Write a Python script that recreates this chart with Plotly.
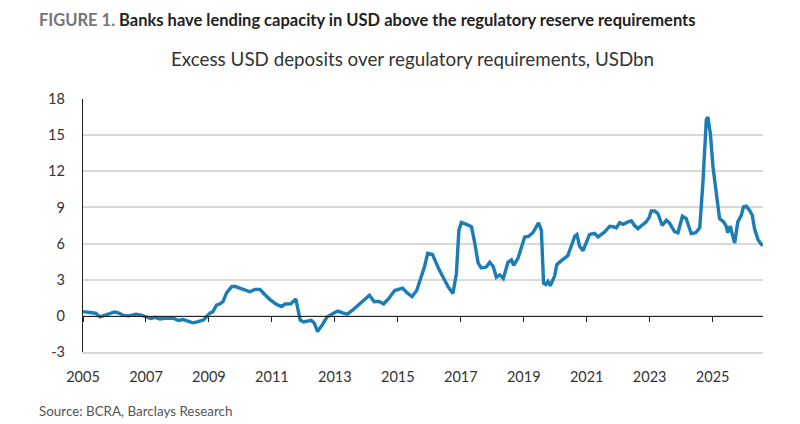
import plotly.graph_objects as go

# colours
COLORS = {
    'line': '#1b7db4',
    'grid': '#d9d9d9',
    'axis': '#222222',
    'text': '#333333',
    'muted': '#6b6b6b',
}

# data (decimal year, USD bn)
years = [
    2005.00, 2005.15, 2005.30, 2005.40, 2005.54, 2005.70, 2005.86, 2006.00, 2006.12, 2006.28,
    2006.45, 2006.68, 2006.85, 2007.00, 2007.15, 2007.30, 2007.44, 2007.65, 2007.87, 2008.03,
    2008.18, 2008.35, 2008.50, 2008.65, 2008.82, 2008.93, 2009.03, 2009.13, 2009.24, 2009.35,
    2009.45, 2009.56, 2009.72, 2009.82, 2009.98, 2010.19, 2010.30, 2010.46, 2010.62, 2010.78,
    2010.94, 2011.15, 2011.31, 2011.42, 2011.60, 2011.76, 2011.90, 2012.00, 2012.12, 2012.25,
    2012.35, 2012.45, 2012.60, 2012.75, 2013.00, 2013.10, 2013.25, 2013.40, 2013.55, 2013.70,
    2013.85, 2014.00, 2014.10, 2014.25, 2014.40, 2014.55, 2014.70, 2014.90, 2015.15, 2015.30,
    2015.45, 2015.60, 2015.72, 2015.85, 2015.95, 2016.10, 2016.30, 2016.49, 2016.60, 2016.75,
    2016.86, 2016.94, 2017.02, 2017.18, 2017.34, 2017.44, 2017.55, 2017.65, 2017.81, 2017.92,
    2018.03, 2018.13, 2018.24, 2018.35, 2018.50, 2018.61, 2018.68, 2018.82, 2018.92, 2019.03,
    2019.15, 2019.29, 2019.47, 2019.56, 2019.63, 2019.70, 2019.77, 2019.84, 2019.98, 2020.05,
    2020.16, 2020.30, 2020.40, 2020.51, 2020.62, 2020.69, 2020.77, 2020.88, 2020.99, 2021.09,
    2021.25, 2021.36, 2021.57, 2021.73, 2021.84, 2021.94, 2022.05, 2022.16, 2022.31, 2022.42,
    2022.52, 2022.63, 2022.79, 2022.89, 2022.99, 2023.05, 2023.16, 2023.26, 2023.40, 2023.53,
    2023.63, 2023.79, 2023.90, 2024.04, 2024.16, 2024.32, 2024.46, 2024.59, 2024.69, 2024.80,
    2024.85, 2024.93, 2025.01, 2025.12, 2025.22, 2025.35, 2025.43, 2025.48, 2025.56, 2025.62,
    2025.70, 2025.80, 2025.91, 2025.98, 2026.07, 2026.17, 2026.26, 2026.33, 2026.44, 2026.54,
    2026.60,
]
excess_usd = [
    0.35, 0.30, 0.28, 0.22, -0.08, 0.08, 0.22, 0.32, 0.25, 0.04,
    0.00, 0.14, 0.05, -0.12, -0.22, -0.12, -0.26, -0.18, -0.20, -0.38,
    -0.30, -0.45, -0.58, -0.48, -0.35, -0.05, 0.22, 0.35, 0.90, 1.00,
    1.20, 1.90, 2.43, 2.45, 2.30, 2.15, 2.00, 2.20, 2.20, 1.75,
    1.35, 0.95, 0.78, 0.98, 1.00, 1.40, -0.35, -0.50, -0.45, -0.38,
    -0.62, -1.30, -0.75, -0.10, 0.27, 0.40, 0.25, 0.15, 0.45, 0.78,
    1.10, 1.45, 1.72, 1.18, 1.20, 1.00, 1.40, 2.10, 2.30, 1.90,
    1.60, 2.10, 3.00, 4.10, 5.20, 5.10, 3.90, 3.00, 2.40, 1.85,
    3.50, 7.10, 7.75, 7.60, 7.40, 6.10, 4.40, 3.98, 4.05, 4.45,
    4.10, 3.20, 3.40, 3.10, 4.45, 4.65, 4.20, 4.80, 5.60, 6.55,
    6.60, 6.90, 7.72, 7.10, 2.70, 2.60, 2.85, 2.50, 3.30, 4.25,
    4.50, 4.80, 5.00, 5.80, 6.60, 6.75, 5.80, 5.40, 6.10, 6.75,
    6.85, 6.55, 6.97, 7.44, 7.40, 7.30, 7.74, 7.60, 7.80, 7.88,
    7.50, 7.24, 7.60, 7.80, 8.20, 8.70, 8.70, 8.50, 7.50, 7.94,
    7.70, 7.00, 6.90, 8.27, 8.07, 6.83, 6.90, 7.30, 11.0, 16.3,
    16.5, 15.1, 12.4, 9.9, 8.07, 7.80, 7.44, 6.90, 7.44, 6.83,
    6.05, 7.80, 8.35, 9.04, 9.10, 8.77, 8.35, 7.24, 6.33, 5.94,
    5.86,
]

x_ticks = [2005, 2007, 2009, 2011, 2013, 2015, 2017, 2019, 2021, 2023, 2025]
y_ticks = [-3, 0, 3, 6, 9, 12, 15, 18]

X_RANGE = [2005, 2026.6]
Y_RANGE = [-3, 18]
FONT = "Lato"

# plot area in pixels (left, right, top, bottom)
PL, PR, PT, PB = 83, 763, 99, 352
PW, PH = PR - PL, PB - PT


def px_x(x):
    return (x - PL) / PW


def px_y(y):
    return (PB - y) / PH


def build_chart():
    fig = go.Figure()

    # the series itself
    fig.add_trace(go.Scatter(
        x=years, y=excess_usd, mode='lines',
        line=dict(color=COLORS['line'], width=3.4),
        hoverinfo='x+y', showlegend=False,
    ))
    # empty trace so the tick axis on the zero line gets drawn
    fig.add_trace(go.Scatter(
        x=[years[0]], y=[None], xaxis='x2', mode='lines',
        showlegend=False, hoverinfo='skip',
    ))

    zero_pos = (0 - Y_RANGE[0]) / (Y_RANGE[1] - Y_RANGE[0])

    fig.update_layout(
        width=800, height=424,
        margin=dict(l=PL, r=800 - PR, t=PT, b=424 - PB, autoexpand=False),
        paper_bgcolor='white', plot_bgcolor='white',
        font=dict(family=FONT, size=14, color=COLORS['text']),
        xaxis=dict(
            range=X_RANGE, tickvals=x_ticks, ticktext=[str(t) for t in x_ticks],
            showgrid=False, zeroline=False, ticks='',
            # bottom edge doubles as the -3 gridline
            showline=True, linecolor=COLORS['grid'], linewidth=1.5,
            ticklabelstandoff=11,
            tickfont=dict(size=14.5, color=COLORS['text']), automargin=False,
        ),
        xaxis2=dict(
            range=X_RANGE, overlaying='x', anchor='free', position=zero_pos,
            tickvals=x_ticks, showticklabels=False,
            showgrid=False, zeroline=False, automargin=False,
            showline=True, linecolor=COLORS['axis'], linewidth=1.3,
            ticks='outside', ticklen=5, tickwidth=1.3, tickcolor=COLORS['axis'],
        ),
        yaxis=dict(
            range=Y_RANGE, tickvals=y_ticks, ticktext=[str(t) for t in y_ticks],
            showgrid=True, gridcolor=COLORS['grid'], gridwidth=1.5,
            zeroline=False, showline=True, linecolor=COLORS['axis'], linewidth=1.3,
            ticks='', ticklabelstandoff=14, automargin=False,
            tickfont=dict(size=14.5, color=COLORS['text']),
        ),
    )

    # titles and source note
    fig.add_annotation(
        text="<span style='color:#757575'>FIGURE 1.</span> "
             "<span style='color:#222222'>Banks have lending capacity in USD above the regulatory reserve requirements</span>",
        xref='paper', yref='paper', x=px_x(37), y=px_y(20),
        xanchor='left', yanchor='middle', showarrow=False,
        font=dict(family=FONT, size=16.5, weight='bold'),
    )
    fig.add_annotation(
        text="Excess USD deposits over regulatory requirements, USDbn",
        xref='paper', yref='paper', x=px_x(412), y=px_y(58),
        xanchor='center', yanchor='middle', showarrow=False,
        font=dict(family=FONT, size=18.8, color=COLORS['text']),
    )
    fig.add_annotation(
        text="Source: BCRA, Barclays Research",
        xref='paper', yref='paper', x=px_x(37), y=px_y(411),
        xanchor='left', yanchor='middle', showarrow=False,
        font=dict(family=FONT, size=13.4, color='#555555'),
    )
    return fig


if __name__ == "__main__":
    fig = build_chart()
    # drop the default page margin so the figure sits at the window's corner
    fig.write_html("out.html", config={'displayModeBar': False},
                   post_script="document.body.style.margin = '0';")
